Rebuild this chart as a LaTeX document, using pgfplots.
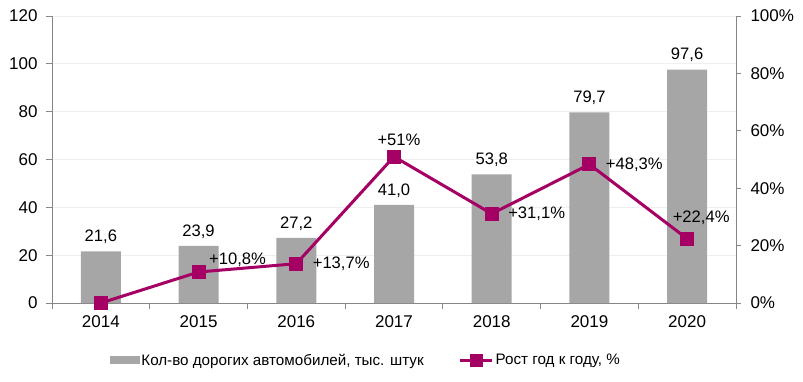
\documentclass[border=0pt]{standalone}
\usepackage{pgfplots}
\pgfplotsset{compat=1.18}
\usepackage{fontspec}
\setmainfont{Liberation Sans}
\definecolor{bargray}{HTML}{A6A6A6}
\definecolor{linemag}{HTML}{A50064}
\definecolor{axgray}{HTML}{868686}
\definecolor{gridc}{HTML}{EFEFEF}
\newcommand{\tickfont}{\fontsize{17}{20}\selectfont}
\newcommand{\labfont}{\fontsize{16.6}{20}\selectfont}
\newcommand{\legfont}{\fontsize{15.2}{18}\selectfont}
\begin{document}
\begin{tikzpicture}
\begin{axis}[
  scale only axis, width=684pt, height=287pt,
  xmin=-0.5, xmax=6.5, ymin=0, ymax=120,
  axis y line*=left, axis x line*=bottom,
  axis line style={axgray, line width=0.8pt},
  xtick={0,...,6}, xticklabels={2014,2015,2016,2017,2018,2019,2020},
  major x tick style={draw=none},
  minor xtick={-0.5,0.5,...,6.5},
  minor x tick style={axgray, line width=0.8pt},
  minor tick length=6pt,
  ytick={0,20,...,120},
  y tick style={axgray, line width=0.8pt},
  tick align=outside, major tick length=6pt,
  ymajorgrids, grid style={gridc, line width=0.8pt},
  /pgf/number format/assume math mode=true,
  tick label style={font=\tickfont},
  yticklabel style={xshift=-5pt},
  xticklabel style={yshift=-3pt},
  ybar, bar width=40pt,
  nodes near coords,
  nodes near coords style={/pgf/number format/fixed, /pgf/number format/fixed zerofill, /pgf/number format/precision=1, /pgf/number format/use comma, /pgf/number format/assume math mode=true, yshift=4pt, font=\labfont},
]
\addplot[fill=bargray, draw=none] coordinates {(0,21.6) (1,23.9) (2,27.2) (3,41.0) (4,53.8) (5,79.7) (6,97.6)};
\end{axis}
\begin{axis}[
  scale only axis, width=684pt, height=287pt,
  xmin=-0.5, xmax=6.5, ymin=0, ymax=100,
  axis y line*=right, axis x line=none,
  axis line style={axgray, line width=0.8pt},
  ytick={0,20,...,100},
  yticklabel={\pgfmathprintnumber[assume math mode=true]{\tick}\%},
  y tick style={axgray, line width=0.8pt},
  tick align=outside, major tick length=5pt,
  tick label style={font=\tickfont},
  yticklabel style={xshift=6pt},
  legend style={at={(0.459,-0.199)}, anchor=center, draw=none, fill=none,
    legend columns=2, font=\legfont,
    /tikz/every even column/.append style={column sep=33pt}},
  legend cell align=left,
]
\addlegendimage{legend image code/.code={\fill[bargray] (0pt,-3.5pt) rectangle (29pt,3.5pt);}}
\addlegendentry{Кол-во дорогих автомобилей, тыс. штук}
\addplot[linemag, line width=3pt, mark=square*, mark size=5.5pt, mark options={solid},
  legend image code/.code={\draw[linemag, line width=3pt] (0pt,0pt)--(32pt,0pt); \fill[linemag] (11pt,-5pt) rectangle (21pt,5pt);}]
  coordinates {(0,0) (1,10.8) (2,13.7) (3,51) (4,31.1) (5,48.3) (6,22.4)};
\addlegendentry{Рост год к году, \%}
\begin{scope}[every node/.style={font=\labfont}]
\node[anchor=south west] at (axis cs:1,10.8) [xshift=7pt, yshift=2pt] {+10,8\%};
\node[anchor=west] at (axis cs:2,13.7) [xshift=13pt] {+13,7\%};
\node[anchor=south] at (axis cs:3,51) [xshift=5pt, yshift=7pt] {+51\%};
\node[anchor=west] at (axis cs:4,31.1) [xshift=13pt] {+31,1\%};
\node[anchor=west] at (axis cs:5,48.3) [xshift=13pt] {+48,3\%};
\node[anchor=south] at (axis cs:6,22.4) [xshift=14pt, yshift=11pt] {+22,4\%};
\end{scope}
\end{axis}
\pgfresetboundingbox
\path (-52pt,-78pt) rectangle (751pt,303pt);
\end{tikzpicture}
\end{document}
